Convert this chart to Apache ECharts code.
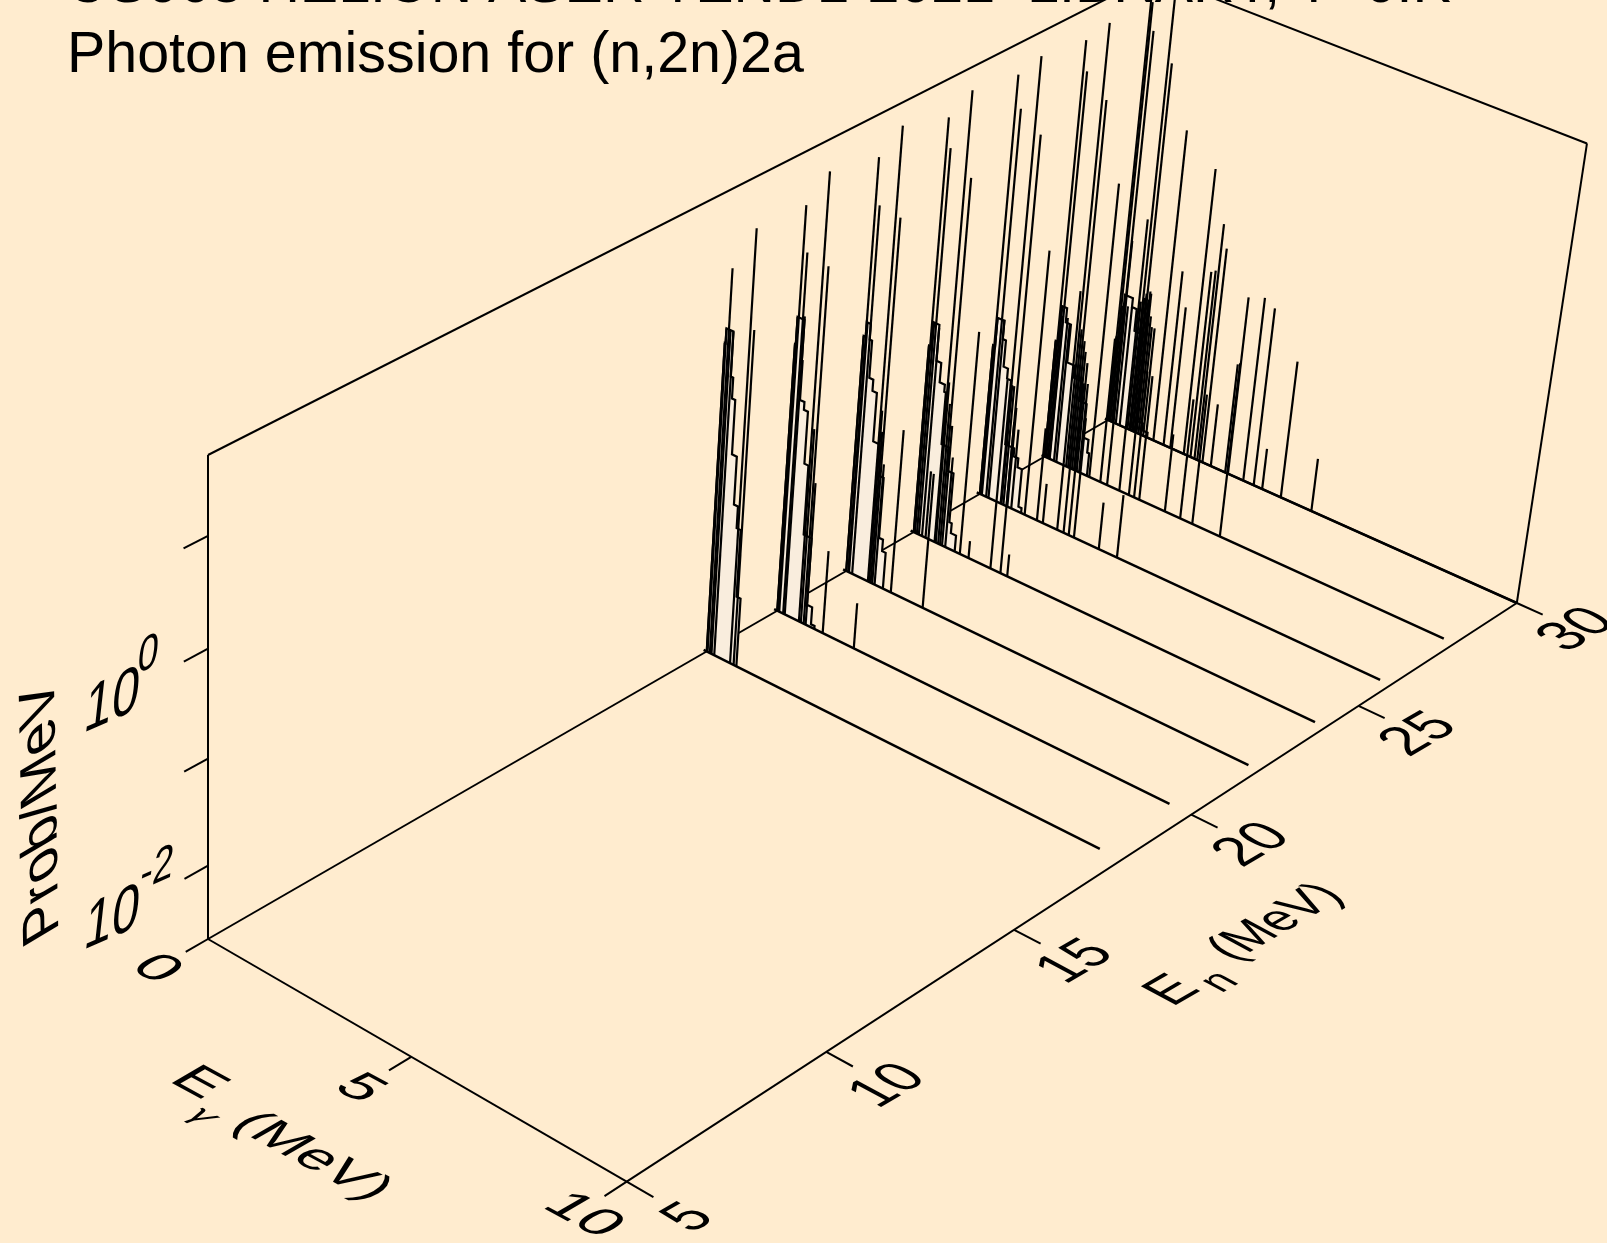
<!DOCTYPE html>
<html><head><meta charset="utf-8">
<style>html,body{margin:0;padding:0;background:#FFECCF;overflow:hidden}#c{width:1607px;height:1243px}</style>
<script src="https://cdn.jsdelivr.net/npm/echarts@6/dist/echarts.min.js"></script>
</head><body><div id="c"></div>
<script>
// ---------- text ----------
const titleLine1 = "US063 HELION ASER TENDL-2021  LIBRARY, T=0.K";
const titleLine2 = "Photon emission for (n,2n)2a";
// ---------- axis ticks ----------
const gammaTicks = [0, 5, 10];
const enTicks = [5, 10, 15, 20, 25, 30];
const logTicks = [-2, -1, 0, 1];
const logLabelled = [-2, 0];
// ---------- incident energies (MeV) ----------
const enValues = [18, 20, 22, 24, 26, 28, 30];
const baseEnd = [9.5, 9.5, 9.75, 9.75, 9.75, 9.75, 10];
// ---------- continuum histograms: right bin edge (MeV), log10(prob/MeV) ----------
const step18E = [.02,.19,.25,.33,.45,.55,.65,.75];
const step18L = [.28,.42,0,-.196,-.711,-1.17,-1.38,-2.03];
const step20E = [.02,.19,.21,.32,.42,.52,.72,.85,.94];
const step20L = [-.096,.166,-.218,-.59,-.665,-1.166,-1.84,-2.5,-2.67];
const step22E = [.05,.15,.21,.31,.42,.57,.74,.84,.93];
const step22L = [-.38,-.24,-.39,-.748,-.857,-1.33,-1.63,-2.225,-2.34];
const step24E = [.05,.21,.33,.46,.5,.7,.85,.91,1.04];
const step24L = [-.84,-.6,-.95,-1.14,-1.21,-1.72,-1.95,-2.44,-2.54];
const step26E = [.05,.22,.30,.41,.51,.74,.86,.97,1.05];
const step26L = [-1.2,-.92,-1.10,-1.36,-1.46,-2.1,-2.18,-2.27,-2.65];
const step28E = [.06,.2,.33,.52,.73,.9,1.03,1.08];
const step28L = [-1.52,-1.16,-1.3,-1.68,-1.8,-2.0,-2.34,-2.47];
const step30E = [.05,.1,.3,.42,.6,.72,.86,1.0];
const step30L = [-1.85,-1.53,-1.4,-1.49,-1.71,-2.0,-2.58,-2.65];
// ---------- discrete lines: energy (MeV), log10(prob/MeV) ----------
const line18E = [0,.02,.08,.12,.19,.59,.68];
const line18L = [.28,.42,.985,.42,.42,1.435,.52];
const line20E = [0,.02,.05,.15,.19,.55,.6,.67,.72,1.15,1.93];
const line20L = [-.096,.166,1.21,.79,.2,1.6,-.8,.75,-1.3,-1.885,-2.25];
const line22E = [0,.07,.05,.15,.55,.58,.62,.66,.72,1.13,1.93];
const line22L = [-.38,-.24,1.31,.88,1.68,-1,-1.2,.85,-1.5,-1.09,-1.37];
const line24E = [0,.08,.21,.03,.13,.53,.56,.62,.67,.72,.8,.3,1.17,1.39,1.94,2.19,2.36];
const line24L = [-.84,-.6,-.63,1.34,1.07,1.67,-1.1,-1.3,.88,-1.5,-1.8,-2.03,-.5,-2.53,-.83,-1.2,-2.48];
const line26E = [0,.05,.22,.03,.16,.53,.55,.6,.68,.7,.8,1.14,1.45,1.6,1.96,2.12,2.25,2.38,3.0,3.45];
const line26L = [-1.2,-.926,-.91,1.41,1.11,1.66,-1.5,-1.5,.95,-1.7,-1.9,-.08,-1.77,-2.3,-.33,-1.02,-1.18,-1.5,-2.23,-2.07];
const line28E = [0,.08,.12,.24,.3,.04,.13,.55,.6,.65,.7,.75,.82,.88,1.14,1.42,1.59,1.9,2.14,2.27,2.4,3.04,3.42,3.72,4.4];
const line28L = [-1.52,-1.16,-1.25,-1.25,-1.3,1.41,1.13,1.65,-1.3,.94,-1.4,-1.5,-1.6,-1.8,.22,-1.25,-.26,0,-.66,-1.43,-1.45,-1.92,-1.5,-1.4,-.97];
const line30E = [0,.06,.1,.2,.3,.04,.13,.5,.55,.58,.62,.64,.68,.73,.78,.83,.9,1.16,1.42,1.59,1.93,2.1,2.2,2.27,2.4,2.61,2.97,3.04,3.42,3.68,3.89,4.35,5.1];
const line30L = [-1.85,-1.53,-1.5,-1.5,-1.49,1.45,1.19,-1.4,1.75,-1.35,-1.3,.96,-1.35,-1.28,-1.5,-1.6,-1.6,.40,-.94,-1.27,.15,-.83,-.8,-.33,-.55,-2.07,-1.6,-.92,-.86,-.92,-2.29,-1.33,-2.17];

const stepE = [step18E,step20E,step22E,step24E,step26E,step28E,step30E];
const stepL = [step18L,step20L,step22L,step24L,step26L,step28L,step30L];
const lineE = [line18E,line20E,line22E,line24E,line26E,line28E,line30E];
const lineL = [line18L,line20L,line22L,line24L,line26L,line28L,line30L];

// ---------- scales of the 3-D box ----------
const gammaMax = 10, enMin = 5, enMax = 30, logMin = -2.7, logMax = 1.7;
const U = e => e / gammaMax;
const V = n => (n - enMin) / (enMax - enMin);
const Z = l => (l - logMin) / (logMax - logMin);
// perspective view of the unit box onto the page-unit value axes
function proj(u, v, z) {
  const w = 1 - .05656*u + .14737*v - .0555*z;
  return [(208 + 383.25*u + 1063.3*v - 11.54*z) / w,
          (939 + 175.86*u - 457.1*v - 509.25*z) / w];
}
const BG = '#FFECCF', FILL = '#F9EDDD', INK = '#000';
const FONT = '"Liberation Sans", Arial, sans-serif';
const AXW = 2, DATW = 2.2, BASEW = 2.5;

function seg(api, a, b, lw) {
  const p = api.coord(a), q = api.coord(b);
  return {type:'line', shape:{x1:p[0],y1:p[1],x2:q[0],y2:q[1]}, style:{stroke:INK,lineWidth:lw,fill:null}};
}
function txt(api, s, anchor, M, lx, ly, size, align, extra, rot) {
  const a = api.coord(anchor);
  return {type:'text', x:a[0]+(rot?0:M[0]*lx+M[2]*ly), y:a[1]+(rot?0:M[1]*lx+M[3]*ly),
    scaleX:M[0], scaleY:M[3], rotation:rot||0,
    skewX:Math.atan(M[2]/M[3]), skewY:-Math.atan(M[1]/M[0]),
    style:Object.assign({text:s, x:0, y:0, fill:INK, font:size+'px '+FONT, align:align||'center', verticalAlign:'middle'}, extra||{})};
}
function renderBack(p, api) {
  const c = [];
  const L = (a,b) => c.push(seg(api, proj(...a), proj(...b), AXW));
  L([0,0,0],[0,1,0]);
  L([0,1,0],[1,1,0]);
  L([0,1,0],[0,1,1]);
  L([0,0,1],[0,1,1]);
  L([0,1,1],[1,1,1]);
  L([1,1,0],[1,1,1]);
  L([0,0,0],[0,0,1]);
  return {type:'group', children:c};
}
function renderSpectrum(i, api) {
  const v = V(enValues[i]), c = [];
  const pts = [proj(0,v,0)];
  stepE[i].forEach((e,k) => {
    const left = k ? stepE[i][k-1] : 0, zz = Z(stepL[i][k]);
    pts.push(proj(U(left),v,zz), proj(U(e),v,zz));
  });
  pts.push(proj(U(stepE[i][stepE[i].length-1]),v,0));
  const screen = pts.map(q => api.coord(q));
  c.push({type:'polygon', shape:{points:screen}, style:{fill:FILL, stroke:null}});
  c.push({type:'polyline', shape:{points:screen}, style:{fill:null, stroke:INK, lineWidth:DATW}});
  c.push(seg(api, proj(U(-.08),v,0), proj(U(baseEnd[i]),v,0), BASEW));
  lineE[i].forEach((e,k) => c.push(seg(api, proj(U(e),v,0), proj(U(e),v,Z(lineL[i][k])), DATW)));
  return {type:'group', children:c};
}
const MG = [1.03,.56,-.883,.511];      // floor text along E-gamma
const MN = [.86,-.5,.98,.53];          // floor text along E-n
const MZ = [.77,-.34,-.116,1.05];      // text on the left wall
const MP0 = [1.15,-.02,.606,1.02];     // Prob/MeV before its quarter turn
function renderFront(p, api) {
  const c = [];
  const L = (a,b) => c.push(seg(api, proj(...a), proj(...b), AXW));
  L([0,0,0],[1,0,0]);
  L([1,0,0],[1,1,0]);
  gammaTicks.forEach(g => {
    L([U(g),0,0],[U(g),-.0215,0]);
    const q = proj(U(g),-.05,0);
    c.push(txt(api, String(g), [q[0]+(g===10?8:0), q[1]], MG, 0, 0, 52));
  });
  enTicks.forEach(n => {
    L([1,V(n),0],[1.06,V(n),0]);
    c.push(txt(api, String(n), proj(1.14,V(n),0), MN, 0, 0, 54));
  });
  logTicks.forEach(l => L([0,0,Z(l)],[0,-.0225,Z(l)]));
  logLabelled.forEach(l => {
    const q = proj(0,0,Z(l));
    c.push(txt(api, '10', [q[0]-96,q[1]+54], MZ, 0, 0, 64));
    c.push(txt(api, String(l), [q[0]-(l<0?51:60),q[1]+(l<0?4:7)], MZ, 0, 0, 48));
  });
  c.push(txt(api, 'Prob/MeV', [42,811], MP0, 0, 0, 50, 'center', null, Math.PI/2));
  c.push(txt(api, 'E', [198,1083], MG, 0, 0, 52));
  c.push(txt(api, 'γ', [201,1116], MG, 0, 0, 32, 'center', {font:'italic 32px "DejaVu Sans", sans-serif'}));
  c.push(txt(api, '(MeV)', [250,1123], MG, -8, 0, 50, 'left'));
  c.push(txt(api, 'E', [1173,991], MN, 0, 0, 52));
  c.push(txt(api, 'n', [1220,982], MN, 0, 0, 40));
  c.push(txt(api, '(MeV)', [1227,951], MN, -8, 0, 48, 'left'));
  return {type:'group', children:c};
}
function renderTitle(p, api) {
  const a = api.coord([67,4]), b = api.coord([67,74]);
  const st = s => ({text:s, x:0, y:0, fill:INK, font:'57.4px '+FONT, align:'left', verticalAlign:'bottom'});
  return {type:'group', children:[
    {type:'text', x:a[0], y:a[1]+11, style:st(titleLine1)},
    {type:'text', x:b[0], y:b[1]+11, style:st(titleLine2)}
  ]};
}
const common = {type:'custom', coordinateSystem:'cartesian2d', silent:true, clip:false, animation:false, encode:{x:0,y:1}};
const series = [Object.assign({}, common, {name:'box', z:1, data:[[0,0]], renderItem:renderBack})];
for (let i = enValues.length-1; i >= 0; i--) {
  const idx = i;
  series.push(Object.assign({}, common, {name:'En='+enValues[i]+' MeV', z:2+(6-i), data:[[0,0]],
    renderItem:(p,api)=>renderSpectrum(idx,api)}));
}
series.push(Object.assign({}, common, {name:'axes', z:20, data:[[0,0]], renderItem:renderFront}));
series.push(Object.assign({}, common, {name:'title', z:21, data:[[0,0]], renderItem:renderTitle}));

const chart = echarts.init(document.getElementById('c'), null, {renderer:'canvas', width:1607, height:1243});
chart.setOption({
  animation:false,
  backgroundColor:BG,
  tooltip:{show:false},
  grid:{left:0,right:0,top:0,bottom:0,containLabel:false},
  xAxis:{type:'value',min:0,max:1607,show:false},
  yAxis:{type:'value',min:0,max:1243,inverse:true,show:false},
  series
});
</script></body></html>
